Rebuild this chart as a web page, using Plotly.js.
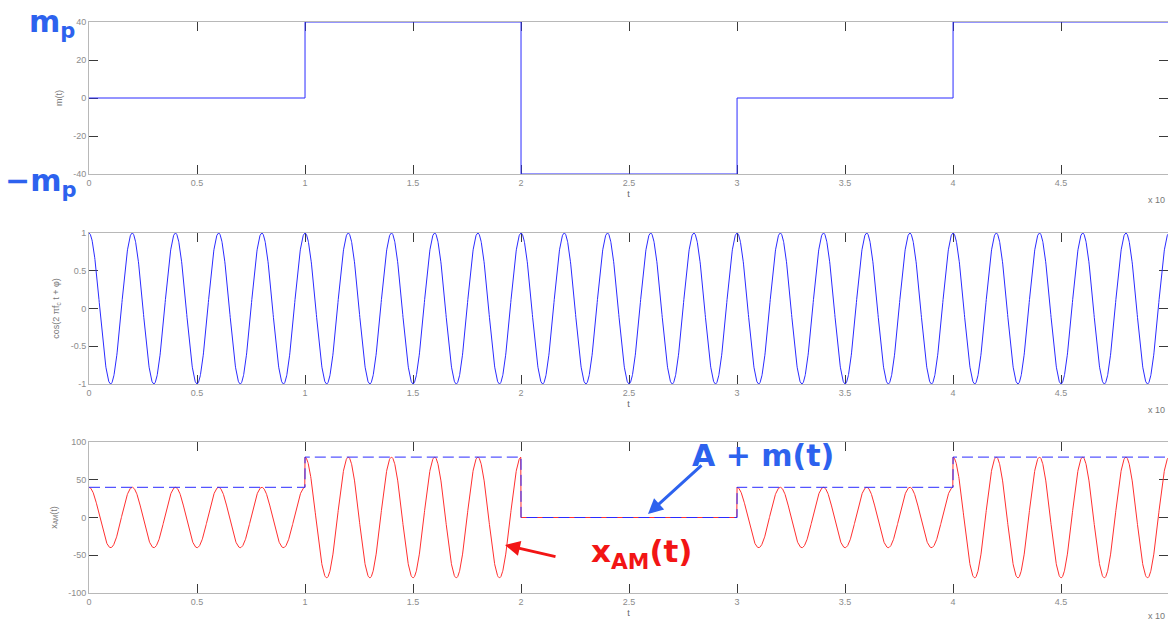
<!DOCTYPE html>
<html>
<head>
<meta charset="utf-8">
<script src="https://cdn.plot.ly/plotly-3.0.1.min.js"></script>
<style>html,body{margin:0;padding:0;background:#fff;}#chart{width:1168px;height:623px;}</style>
</head>
<body>
<div id="chart"></div>
<script>
// ---- data ----
const T_EDGES = [0, 1, 2, 3, 4, 5];          // step boundaries of m(t)
const M_VALUES = [0, 40, -40, 0, 40];        // m(t) on each interval
const A_OFFSET = 40;                          // carrier amplitude offset A
const CARRIER_FREQ = 5;                       // carrier cycles per unit of t
const CARRIER_PHASE = 0;                      // phi
const X_TICKS = [0, 0.5, 1, 1.5, 2, 2.5, 3, 3.5, 4, 4.5];
const Y1_TICKS = [-40, -20, 0, 20, 40];
const Y2_TICKS = [-1, -0.5, 0, 0.5, 1];
const Y3_TICKS = [-100, -50, 0, 50, 100];

// ---- derived series ----
const mStepY = M_VALUES.concat([M_VALUES[M_VALUES.length - 1]]);
const envStepY = mStepY.map(v => A_OFFSET + v);
const N = 4000;
const tS = [], carrier = [], xam = [];
function mAt(t) {
  for (let i = 0; i < M_VALUES.length; i++) if (t < T_EDGES[i + 1]) return M_VALUES[i];
  return M_VALUES[M_VALUES.length - 1];
}
for (let i = 0; i <= N; i++) {
  const t = T_EDGES[0] + (T_EDGES[T_EDGES.length - 1] - T_EDGES[0]) * i / N;
  const c = Math.cos(2 * Math.PI * CARRIER_FREQ * t + CARRIER_PHASE);
  tS.push(t); carrier.push(c); xam.push((A_OFFSET + mAt(t)) * c);
}

const BLUE = '#2b2bff', RED = '#ff3030';
const traces = [
  {x: T_EDGES, y: mStepY, xaxis: 'x', yaxis: 'y', mode: 'lines', line: {shape: 'hv', color: BLUE, width: 1}, cliponaxis: false},
  {x: tS, y: carrier, xaxis: 'x2', yaxis: 'y2', mode: 'lines', line: {color: BLUE, width: 1}, cliponaxis: false},
  {x: tS, y: xam, xaxis: 'x3', yaxis: 'y3', mode: 'lines', line: {color: RED, width: 1}, cliponaxis: false},
  {x: T_EDGES, y: envStepY, xaxis: 'x3', yaxis: 'y3', mode: 'lines', line: {shape: 'hv', color: BLUE, width: 1, dash: '11px,5px'}, cliponaxis: false}
];

const L = 89, W = 1079, B = 593, H = 571;
const px = p => (p - L) / W;
const py = q => (B - q) / H;

function xax(anchor) {
  return {
    domain: [0, 1], anchor: anchor, range: [0, 4.995],
    tickvals: X_TICKS, ticktext: X_TICKS.map(String),
    ticks: 'inside', ticklen: 9, tickcolor: '#3a3a3a', tickwidth: 1,
    showline: true, linecolor: '#b8b8b8', linewidth: 1, mirror: 'ticks',
    showgrid: false, zeroline: false, layer: 'below traces',
    tickfont: {family: 'Liberation Sans, Arial', size: 9, color: '#8c8c8c'},
    title: {text: 't', font: {family: 'Liberation Sans, Arial', size: 9, color: '#666'}, standoff: 3}
  };
}
function yax(anchor, dom, rng, ticks, title) {
  return {
    domain: dom, anchor: anchor, range: rng,
    tickvals: ticks, ticktext: ticks.map(String),
    ticks: 'inside', ticklen: 9, tickcolor: '#3a3a3a', tickwidth: 1,
    showline: true, linecolor: '#b8b8b8', linewidth: 1, mirror: 'ticks',
    showgrid: false, zeroline: false, layer: 'below traces',
    tickfont: {family: 'Liberation Sans, Arial', size: 9, color: '#8c8c8c'},
    title: {text: title, font: {family: 'Liberation Sans, Arial', size: 9, color: '#777'}, standoff: 9}
  };
}

const hand = {family: 'DejaVu Sans, sans-serif', size: 30, color: '#2d62ee', weight: 'bold'};
const handR = {family: 'DejaVu Sans, sans-serif', size: 31, color: '#f21515', weight: 'bold'};
const small = {family: 'Liberation Sans, Arial', size: 9, color: '#777'};

const layout = {
  width: 1168, height: 623,
  margin: {l: L, r: 0, t: 22, b: 30},
  paper_bgcolor: '#fff', plot_bgcolor: '#fff',
  showlegend: false,
  xaxis: xax('y'), yaxis: yax('x', [py(174), 1], [-40, 40], Y1_TICKS, 'm(t)'),
  xaxis2: xax('y2'), yaxis2: yax('x2', [py(384), py(233)], [-1, 1], Y2_TICKS, 'cos(2 πf<sub>c</sub> t + φ)'),
  xaxis3: xax('y3'), yaxis3: yax('x3', [0, py(442)], [-100, 100], Y3_TICKS, 'x<sub>AM</sub>(t)'),
  annotations: [
    {xref: 'paper', yref: 'paper', x: px(1167), y: py(200), xanchor: 'right', yanchor: 'middle', text: 'x 10', showarrow: false, font: small},
    {xref: 'paper', yref: 'paper', x: px(1167), y: py(410), xanchor: 'right', yanchor: 'middle', text: 'x 10', showarrow: false, font: small},
    {xref: 'paper', yref: 'paper', x: px(1167), y: py(616), xanchor: 'right', yanchor: 'middle', text: 'x 10', showarrow: false, font: small},
    {xref: 'paper', yref: 'paper', x: px(52), y: py(2), xanchor: 'center', yanchor: 'top', text: 'm<sub>p</sub>', showarrow: false, font: hand},
    {xref: 'paper', yref: 'paper', x: px(40), y: py(182), xanchor: 'center', yanchor: 'middle', text: '−m<sub>p</sub>', showarrow: false, font: hand},
    {xref: 'paper', yref: 'paper', x: px(763), y: py(455), xanchor: 'center', yanchor: 'middle', text: 'A + m(t)', showarrow: false, font: hand},
    {xref: 'paper', yref: 'paper', x: px(642), y: py(553), xanchor: 'center', yanchor: 'middle', text: 'x<sub>AM</sub>(t)', showarrow: false, font: handR},
    {xref: 'paper', yref: 'paper', x: px(648), y: py(514), text: '', showarrow: true, arrowhead: 2, arrowsize: 1, arrowwidth: 3, arrowcolor: '#2d62ee', ax: 55, ay: -50, standoff: 0},
    {xref: 'paper', yref: 'paper', x: px(505), y: py(545), text: '', showarrow: true, arrowhead: 2, arrowsize: 1, arrowwidth: 3, arrowcolor: '#f21515', ax: 52, ay: 12, standoff: 0}
  ]
};

Plotly.newPlot('chart', traces, layout, {displayModeBar: false, staticPlot: true});
</script>
</body>
</html>
